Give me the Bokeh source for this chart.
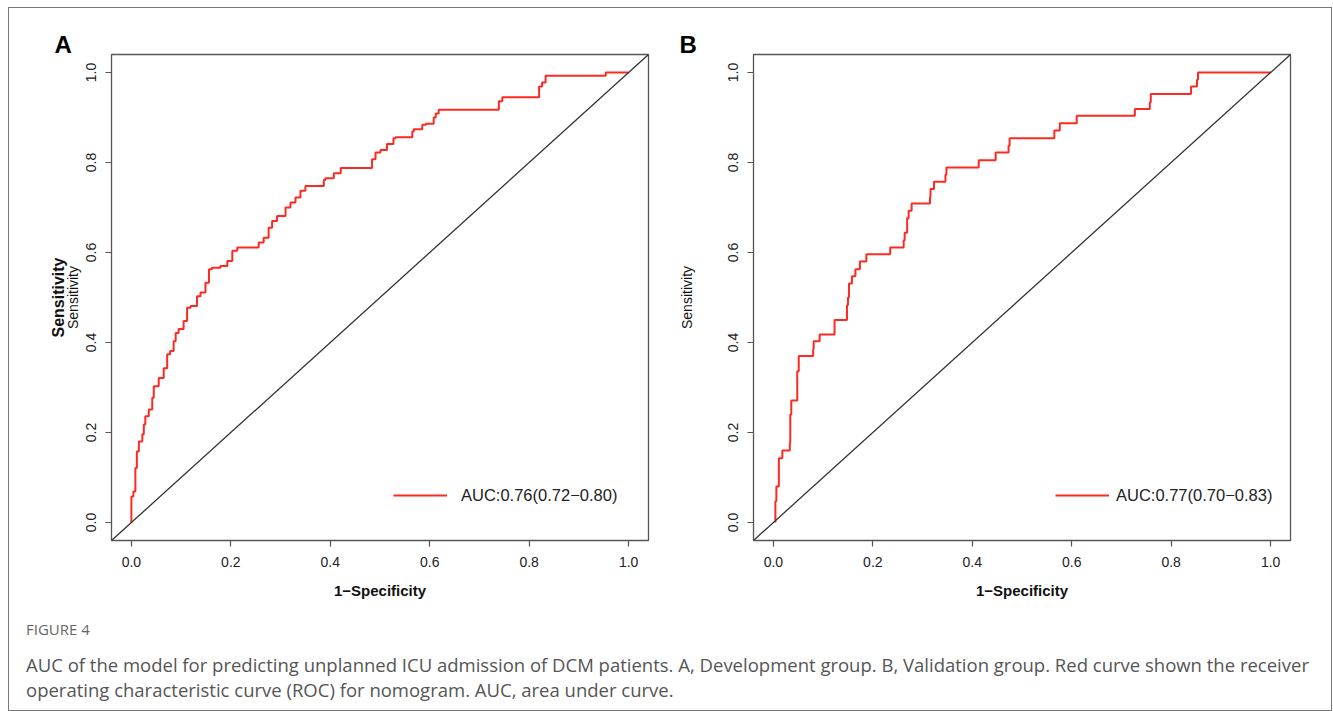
import math
from bokeh.plotting import figure
from bokeh.models import (Range1d, FixedTicker, LinearAxis, Slope, Legend, LegendItem,
                          Div, PrintfTickFormatter)
from bokeh.layouts import row, column
from bokeh.embed import file_html
from bokeh.resources import INLINE

# ---------------- data ----------------
fpr_a = [0.000, 0.004, 0.008, 0.011, 0.015, 0.022, 0.025, 0.028, 0.035, 0.042, 0.045, 0.055,
         0.065, 0.072, 0.078, 0.085, 0.089, 0.095, 0.105, 0.112, 0.119, 0.132, 0.139, 0.149,
         0.156, 0.162, 0.179, 0.193, 0.203, 0.213, 0.226, 0.256, 0.266, 0.276, 0.283, 0.293,
         0.310, 0.320, 0.330, 0.340, 0.350, 0.357, 0.387, 0.390, 0.407, 0.421, 0.434, 0.484,
         0.491, 0.501, 0.514, 0.527, 0.531, 0.565, 0.568, 0.585, 0.592, 0.608, 0.612, 0.618,
         0.628, 0.739, 0.746, 0.779, 0.820, 0.826, 0.833, 0.853, 0.954, 0.954, 1.000]
tpr_a = [0.000, 0.058, 0.069, 0.121, 0.158, 0.180, 0.196, 0.218, 0.236, 0.251, 0.277, 0.303,
         0.321, 0.343, 0.374, 0.381, 0.403, 0.421, 0.430, 0.448, 0.477, 0.481, 0.503, 0.511,
         0.533, 0.563, 0.566, 0.570, 0.581, 0.604, 0.611, 0.611, 0.622, 0.633, 0.655, 0.670,
         0.681, 0.700, 0.711, 0.722, 0.737, 0.748, 0.748, 0.761, 0.765, 0.776, 0.788, 0.788,
         0.807, 0.822, 0.828, 0.841, 0.854, 0.856, 0.869, 0.874, 0.884, 0.886, 0.900, 0.909,
         0.917, 0.917, 0.936, 0.945, 0.945, 0.969, 0.978, 0.993, 0.993, 1.000, 1.000]

fpr_b = [0.004, 0.006, 0.011, 0.018, 0.024, 0.033, 0.034, 0.036, 0.041, 0.048, 0.051, 0.053,
         0.080, 0.081, 0.093, 0.105, 0.123, 0.125, 0.148, 0.150, 0.152, 0.158, 0.165, 0.174,
         0.187, 0.195, 0.235, 0.237, 0.262, 0.264, 0.269, 0.272, 0.278, 0.281, 0.315, 0.316,
         0.323, 0.326, 0.346, 0.348, 0.356, 0.413, 0.415, 0.447, 0.447, 0.473, 0.475, 0.480,
         0.565, 0.567, 0.576, 0.577, 0.610, 0.611, 0.727, 0.728, 0.757, 0.759, 0.762, 0.840,
         0.842, 0.852, 0.854, 0.859, 1.000]
tpr_b = [0.000, 0.047, 0.080, 0.143, 0.160, 0.160, 0.177, 0.240, 0.271, 0.271, 0.336, 0.370,
         0.370, 0.386, 0.403, 0.418, 0.418, 0.450, 0.450, 0.483, 0.500, 0.531, 0.547, 0.563,
         0.580, 0.596, 0.596, 0.611, 0.611, 0.627, 0.644, 0.676, 0.693, 0.709, 0.709, 0.724,
         0.741, 0.757, 0.757, 0.773, 0.789, 0.789, 0.805, 0.805, 0.822, 0.822, 0.837, 0.854,
         0.854, 0.871, 0.871, 0.887, 0.887, 0.904, 0.904, 0.919, 0.919, 0.934, 0.952, 0.952,
         0.969, 0.969, 0.984, 1.000, 1.000]

ticks = [0.0, 0.2, 0.4, 0.6, 0.8, 1.0]
auc_labels = ["AUC:0.76(0.72\u22120.80)", "AUC:0.77(0.70\u22120.83)"]
panel_letters = ["A", "B"]
x_title = "1\u2212Specificity"
y_title = "Sensitivity"
caption_head = "FIGURE 4"
caption_line1 = ("AUC of the model for predicting unplanned ICU admission of DCM patients. "
                 "A, Development group. B, Validation group. Red curve shown the receiver")
caption_line2 = "operating characteristic curve (ROC) for nomogram. AUC, area under curve."

RED = "#fb2a22"
FONT = "Liberation Sans"


def make_panel(fpr, tpr, auc_text, letter, min_left, min_right, ylab_standoff,
               bold_ylab, legend_x, legend_standoff, letter_dx):
    p = figure(width=661, height=597, x_range=Range1d(-0.04, 1.04),
               y_range=Range1d(-0.04, 1.04), output_backend="svg",
               toolbar_location=None, min_border_left=min_left,
               min_border_right=min_right, min_border_top=46, min_border_bottom=65,
               title=letter)
    p.title.align = "left"
    p.title.offset = letter_dx
    p.title.standoff = -6
    p.title.text_font = FONT
    p.title.text_font_style = "bold"
    p.title.text_font_size = "24px"
    p.title.text_color = "#000000"

    p.grid.visible = False
    p.background_fill_color = "white"
    p.border_fill_color = "white"
    p.outline_line_color = "#555555"
    p.outline_line_width = 1.3

    for ax in (p.xaxis, p.yaxis):
        ax.ticker = FixedTicker(ticks=ticks)
        ax.formatter = PrintfTickFormatter(format="%.1f")
        ax.axis_line_color = None
        ax.major_tick_line_color = "#555555"
        ax.major_tick_line_width = 1.2
        ax.major_tick_out = 6
        ax.major_tick_in = 0
        ax.minor_tick_line_color = None
        ax.major_label_text_font = FONT
        ax.major_label_text_font_size = "14px"
        ax.major_label_text_color = "#222222"
        ax.major_label_standoff = 10
        ax.axis_label_text_font = FONT
        ax.axis_label_text_color = "#111111"

    p.xaxis.axis_label = x_title
    p.xaxis.axis_label_text_font_style = "bold"
    p.xaxis.axis_label_text_font_size = "15px"
    p.xaxis.axis_label_standoff = 12

    p.yaxis.major_label_orientation = "parallel"
    p.yaxis.axis_label = y_title
    p.yaxis.axis_label_text_font_style = "normal"
    p.yaxis.axis_label_text_font_size = "14px"
    p.yaxis.axis_label_standoff = ylab_standoff

    if bold_ylab:
        extra = LinearAxis(ticker=FixedTicker(ticks=[]), axis_label=y_title,
                           axis_label_text_font=FONT, axis_label_text_font_style="bold",
                           axis_label_text_font_size="16px", axis_label_text_color="#111111",
                           axis_line_color=None, major_tick_line_color=None,
                           minor_tick_line_color=None, major_tick_out=0, major_tick_in=0,
                           major_label_standoff=0, axis_label_standoff=-5)
        p.add_layout(extra, "left")

    p.add_layout(Slope(gradient=1, y_intercept=0, line_color="#333333", line_width=1.3))
    r = p.step(fpr, tpr, mode="before", line_color=RED, line_width=2)

    legend = Legend(items=[LegendItem(label=auc_text, renderers=[r])],
                    location=(legend_x, 35), border_line_color=None,
                    background_fill_alpha=0, glyph_width=54, glyph_height=20,
                    label_height=20, label_standoff=legend_standoff, padding=0, margin=0,
                    label_text_font=FONT, label_text_font_size="16.5px",
                    label_text_color="#222222")
    p.add_layout(legend)
    return p


pa = make_panel(fpr_a, tpr_a, auc_labels[0], panel_letters[0], 102, 22, 2, True, 282, 14, -57)
pb = make_panel(fpr_b, tpr_b, auc_labels[1], panel_letters[1], 83, 41, 30, False, 302, 7, -74)

caption = Div(
    text=(f'<div style="font-family:\'Open Sans\'; font-size:15px; font-weight:400; '
          f'color:#666666; line-height:18px; margin-top:15px; padding-left:17px;">'
          f'{caption_head}</div>'
          f'<div style="font-family:\'Open Sans\'; font-size:18.5px; color:#555555; '
          f'line-height:25px; margin-top:14px; padding-left:17px; white-space:nowrap;">'
          f'{caption_line1}<br>{caption_line2}</div>'),
    width=1322, height=105, margin=(0, 0, 0, 0))

layout = column(row(pa, pb), caption, margin=(7, 0, 0, 8),
                styles={"border": "1px solid #777777"})

open("out.html", "w").write(file_html(layout, INLINE))
